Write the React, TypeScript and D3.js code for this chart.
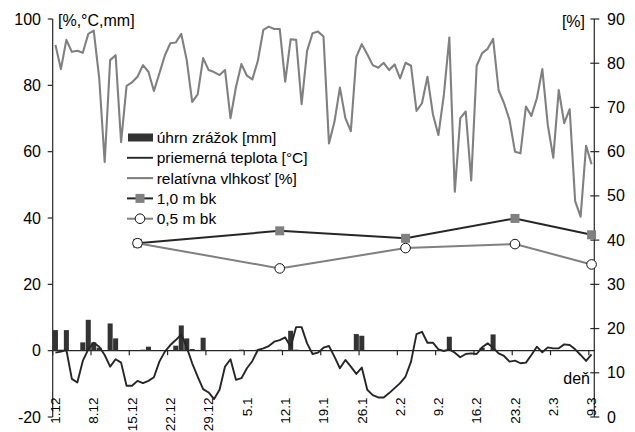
import React, { useEffect, useRef } from "react";
import * as d3 from "d3";

// daily series, 1.12 .. 9.3 (99 days)
const dateLabels = ["1.12", "8.12", "15.12", "22.12", "29.12", "5.1", "12.1", "19.1", "26.1", "2.2", "9.2", "16.2", "23.2", "2.3", "9.3"];

const humidity = [
  92.2, 84.9, 93.7, 90.1, 90.4, 89.8, 95.5, 96.5, 82.2, 56.9,
  87.6, 89.1, 62.9, 79.8, 80.9, 82.6, 86.1, 84.1, 78.3, 83.6,
  89.0, 92.7, 92.9, 95.5, 87.6, 75.0, 77.3, 88.2, 84.6, 84.0,
  83.1, 84.6, 70.1, 79.5, 86.4, 82.9, 81.8, 87.4, 96.7, 97.7,
  97.0, 97.0, 81.1, 93.9, 93.7, 74.3, 90.4, 95.7, 96.2, 94.7,
  62.5, 69.0, 79.3, 70.1, 66.2, 88.6, 92.4, 89.4, 86.1, 85.3,
  86.8, 84.6, 86.3, 82.1, 86.8, 85.9, 72.3, 74.6, 82.6, 71.3,
  65.0, 77.1, 94.4, 47.9, 70.1, 72.1, 51.3, 85.9, 89.7, 91.0,
  94.0, 78.6, 74.6, 69.6, 60.0, 59.5, 73.6, 70.8, 76.1, 84.9,
  68.0, 58.2, 78.6, 68.6, 72.8, 45.1, 40.4, 61.8, 56.2,
];

const temperature = [
  -0.6, -0.3, 0.2, -8.5, -9.6, -3.1, 0.4, 2.4, 1.2, -1.3,
  -4.8, -2.6, -3.6, -10.6, -10.6, -9.1, -9.8, -9.1, -8.0, -3.3,
  -0.3, 1.7, 3.2, 4.9, 1.0, -3.8, -7.8, -11.6, -12.6, -14.6,
  -11.8, -4.8, -2.6, -8.8, -8.3, -5.3, -3.1, 0.2, 0.7, 1.4,
  2.7, 3.2, 4.0, 1.2, 7.1, 7.1, 2.2, -1.0, -0.6, 0.9,
  1.4, -1.8, -5.3, -2.8, -4.8, -7.0, -5.1, -11.8, -13.4, -14.1,
  -14.1, -12.8, -11.3, -9.8, -7.8, -3.3, 5.0, 5.7, 2.4, 2.4,
  0.4, -0.1, 0.4, -0.6, -2.0, -1.0, -0.8, -1.0, 1.0, 2.2,
  0.9, -0.8, -1.6, -3.3, -3.0, -3.8, -3.6, -1.3, 1.2, -0.5,
  1.0, 0.7, 0.7, 1.9, 1.7, 0.4, -1.3, -3.1, -1.1,
];

const precipitation = [
  6.2, 0.3, 6.2, 0, 0.1, 2.5, 9.3, 2.5, 0.9, 0,
  8.2, 3.7, 0, 0, 0, 0, 0.3, 1.2, 0, 0,
  0, 0, 1.5, 7.6, 3.7, 0.5, 0, 3.9, 0, 0,
  0, 0, 0, 0, 0.3, 0, 0, 0.3, 0, 0,
  0, 0.3, 0, 6.0, 0.3, 0, 0, 0, 0, 0,
  0, 0, 0, 0, 0, 5.0, 4.5, 0, 0, 0,
  0, 0, 0, 0, 0, 0, 0, 0, 0, 0,
  0, 0, 4.2, 0, 0, 0, 0, 0, 0.9, 0,
  4.9, 0, 0, 0, 0, 0, 0, 0, 0, 0,
  0, 0, 0, 0, 0, 0, 0, 0, 0,
];

// soil moisture samples (right axis)
const soilDays = [15, 41, 64, 84, 98];
const soil10 = [39.3, 42.1, 40.4, 44.9, 41.2];
const soil05 = [39.3, 33.6, 38.2, 39.1, 34.5];

const leftTicks = [-20, 0, 20, 40, 60, 80, 100];
const rightTicks = [0, 10, 20, 30, 40, 50, 60, 70, 80, 90];

const DARK = "#262626";
const GRAY = "#808080";
const FONT = "'Liberation Sans', Arial, sans-serif";

export default function App() {
  const svgRef = useRef<SVGSVGElement>(null);

  useEffect(() => {
    const svg = d3.select(svgRef.current).html("");
    const left = 52.7, right = 594.3, top = 19, bottom = 417;

    const days = d3.range(humidity.length);
    const x = d3.scaleBand<number>().domain(days).range([left, right]).padding(0);
    const bw = x.bandwidth();
    const xc = (d: number) => (x(d) as number) + bw / 2;
    const yL = d3.scaleLinear().domain([-20, 100]).range([bottom, top]);
    const yR = d3.scaleLinear().domain([0, 90]).range([bottom, top]);

    // left axis
    svg.append("line").attr("x1", left).attr("x2", left).attr("y1", top).attr("y2", bottom)
      .attr("stroke", DARK).attr("stroke-width", 1.2);
    leftTicks.forEach((t) => {
      svg.append("line").attr("x1", left - 5).attr("x2", left).attr("y1", yL(t)).attr("y2", yL(t))
        .attr("stroke", DARK).attr("stroke-width", 1.2);
      svg.append("text").attr("x", 41).attr("y", yL(t)).attr("dy", "0.35em")
        .attr("text-anchor", "end").style("font-size", "16px").text(t);
    });
    svg.append("text").attr("x", 58).attr("y", 20).attr("dy", "0.35em")
      .style("font-size", "16px").text("[%,°C,mm]");

    // right axis
    svg.append("line").attr("x1", right).attr("x2", right).attr("y1", top).attr("y2", bottom)
      .attr("stroke", DARK).attr("stroke-width", 1.2);
    rightTicks.forEach((t) => {
      svg.append("line").attr("x1", right - 4).attr("x2", right + 5).attr("y1", yR(t)).attr("y2", yR(t))
        .attr("stroke", DARK).attr("stroke-width", 1.2);
      svg.append("text").attr("x", 607).attr("y", yR(t)).attr("dy", "0.35em")
        .style("font-size", "16px").text(t);
    });
    svg.append("text").attr("x", 585).attr("y", 21).attr("dy", "0.35em")
      .attr("text-anchor", "end").style("font-size", "16px").text("[%]");

    // category axis at 0
    svg.append("line").attr("x1", left).attr("x2", right).attr("y1", yL(0)).attr("y2", yL(0))
      .attr("stroke", DARK).attr("stroke-width", 1.2);
    dateLabels.forEach((lab, i) => {
      const d = i * 7;
      svg.append("line").attr("x1", x(d) as number).attr("x2", x(d) as number)
        .attr("y1", yL(0)).attr("y2", yL(0) + 4.5).attr("stroke", DARK).attr("stroke-width", 1.2);
      svg.append("text")
        .attr("transform", `translate(${xc(d)},397.5) rotate(-90)`)
        .attr("dy", "0.35em").attr("text-anchor", "end")
        .style("font-size", "13.5px").text(lab);
    });
    svg.append("text").attr("x", 590).attr("y", 378).attr("dy", "0.35em")
      .attr("text-anchor", "end").style("font-size", "16px").text("deň");

    // precipitation
    svg.append("g").selectAll("rect").data(precipitation).enter().append("rect")
      .attr("x", (_, i) => (x(i) as number) + bw * 0.04)
      .attr("width", bw * 0.92)
      .attr("y", (v) => yL(v))
      .attr("height", (v) => yL(0) - yL(v))
      .attr("fill", "#333333");

    const lineL = d3.line<number>().x((_, i) => xc(i)).y((v) => yL(v));
    svg.append("path").datum(temperature).attr("d", lineL)
      .attr("fill", "none").attr("stroke", DARK).attr("stroke-width", 1.9).attr("stroke-linejoin", "round");
    svg.append("path").datum(humidity).attr("d", lineL)
      .attr("fill", "none").attr("stroke", GRAY).attr("stroke-width", 2.1).attr("stroke-linejoin", "round");

    const soilLine = d3.line<number>().x((_, i) => xc(soilDays[i])).y((v) => yR(v));
    svg.append("path").datum(soil10).attr("d", soilLine)
      .attr("fill", "none").attr("stroke", DARK).attr("stroke-width", 2);
    svg.append("g").selectAll("rect").data(soil10).enter().append("rect")
      .attr("x", (_, i) => xc(soilDays[i]) - 4.5).attr("y", (v) => yR(v) - 4.5)
      .attr("width", 9).attr("height", 9).attr("fill", GRAY);
    svg.append("path").datum(soil05).attr("d", soilLine)
      .attr("fill", "none").attr("stroke", GRAY).attr("stroke-width", 2);
    svg.append("g").selectAll("circle").data(soil05).enter().append("circle")
      .attr("cx", (_, i) => xc(soilDays[i])).attr("cy", (v) => yR(v))
      .attr("r", 4.8).attr("fill", "#fff").attr("stroke", "#111").attr("stroke-width", 1);

    // legend
    const lg = svg.append("g").attr("transform", "translate(127,0)");
    const rows = [137.5, 157.8, 178.1, 198.4, 218.7];
    const names = ["úhrn zrážok [mm]", "priemerná teplota [°C]", "relatívna vlhkosť [%]", "1,0 m bk", "0,5 m bk"];
    lg.append("rect").attr("x", 1).attr("y", rows[0] - 4).attr("width", 25).attr("height", 8).attr("fill", "#333333");
    lg.append("line").attr("x1", 0).attr("x2", 26).attr("y1", rows[1]).attr("y2", rows[1]).attr("stroke", DARK).attr("stroke-width", 1.9);
    lg.append("line").attr("x1", 0).attr("x2", 26).attr("y1", rows[2]).attr("y2", rows[2]).attr("stroke", GRAY).attr("stroke-width", 2.1);
    lg.append("line").attr("x1", 0).attr("x2", 26).attr("y1", rows[3]).attr("y2", rows[3]).attr("stroke", DARK).attr("stroke-width", 2);
    lg.append("rect").attr("x", 13 - 4.5).attr("y", rows[3] - 4.5).attr("width", 9).attr("height", 9).attr("fill", GRAY);
    lg.append("line").attr("x1", 0).attr("x2", 26).attr("y1", rows[4]).attr("y2", rows[4]).attr("stroke", GRAY).attr("stroke-width", 2);
    lg.append("circle").attr("cx", 13).attr("cy", rows[4]).attr("r", 4.8).attr("fill", "#fff").attr("stroke", "#111");
    names.forEach((n, i) => {
      lg.append("text").attr("x", 29.7).attr("y", rows[i]).attr("dy", "0.35em")
        .style("font-size", "15.5px").text(n);
    });
  }, []);

  return (
    <div style={{ position: "fixed", left: 0, top: 0, width: 635, height: 432, background: "#fff" }}>
      <svg ref={svgRef} width={635} height={432} style={{ display: "block", fontFamily: FONT }} fill="#000" />
    </div>
  );
}
